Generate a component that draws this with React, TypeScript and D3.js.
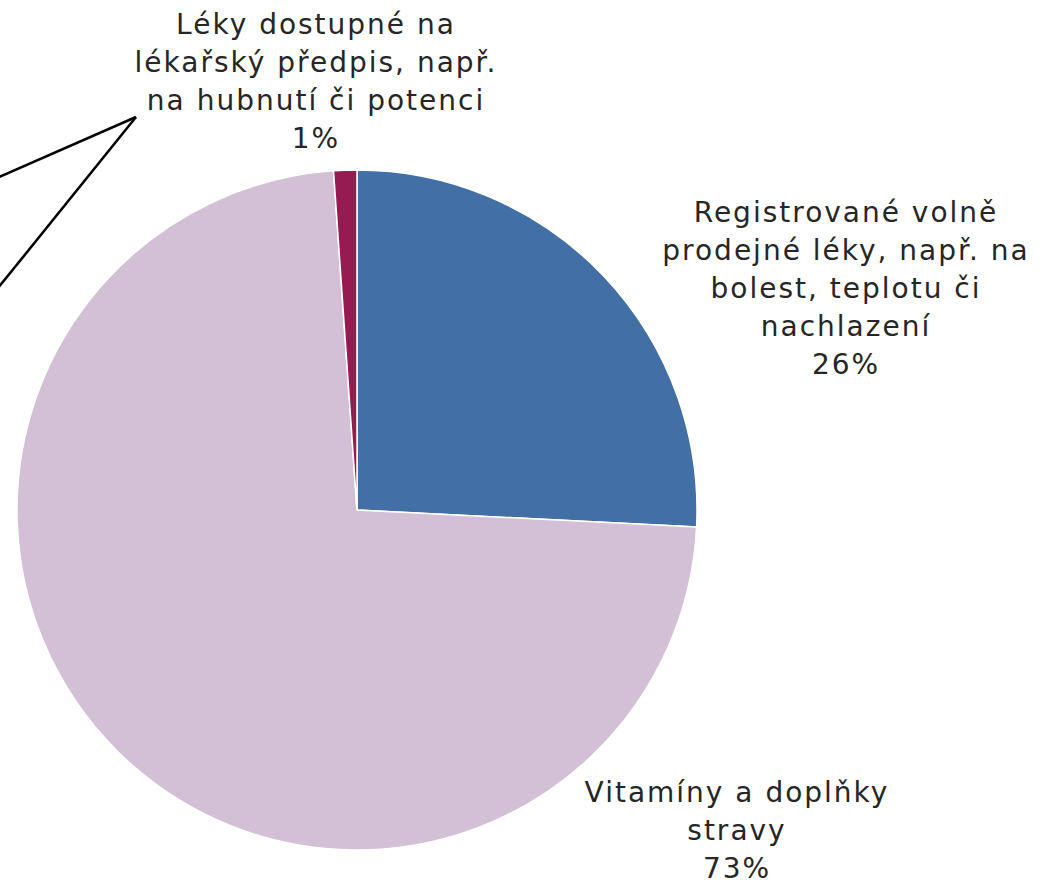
import React, { useEffect, useRef } from 'react';
import * as d3 from 'd3';

// slice data (share in %), in drawing order clockwise from 12 o'clock
const categories = [
  'Registrované volně prodejné léky, např. na bolest, teplotu či nachlazení',
  'Vitamíny a doplňky stravy',
  'Léky dostupné na lékařský předpis, např. na hubnutí či potenci',
];
const values = [25.8, 73.1, 1.1];
const colors = ['#416FA6', '#D3BFD6', '#971B53'];

// wrapped label lines, as in the source
const labelLines = [
  ['Registrované volně', 'prodejné léky, např. na', 'bolest, teplotu či', 'nachlazení'],
  ['Vitamíny a doplňky', 'stravy'],
  ['Léky dostupné na', 'lékařský předpis, např.', 'na hubnutí či potenci'],
];

const App = () => {
  const svgRef = useRef<SVGSVGElement>(null);

  useEffect(() => {
    const width = 1051;
    const height = 880;
    const cx = 357;
    const cy = 510;
    const radius = 340;
    const fontSize = 28;
    const lineH = 38;

    const svg = d3.select(svgRef.current);
    svg.selectAll('*').remove();

    svg.attr('width', width).attr('height', height);

    const g = svg.append('g').attr('transform', `translate(${cx},${cy})`);

    const data = values.map((v, i) => ({ name: categories[i], value: v, i }));

    const pie = d3.pie<any>()
      .value(d => d.value)
      .sort(null)
      .startAngle(0)
      .endAngle(2 * Math.PI);

    const arc = d3.arc<any>().innerRadius(0).outerRadius(radius);

    g.selectAll('path.slice')
      .data(pie(data))
      .enter()
      .append('path')
      .attr('class', 'slice')
      .attr('d', arc)
      .attr('fill', d => colors[d.data.i])
      .attr('stroke', '#ffffff')
      .attr('stroke-width', 1.5);

    // label placement (relative to pie centre) – centre of first baseline
    const labelPos = [
      { x: 489, y: -288 },
      { x: 380, y: 292 },
      { x: -41, y: -476 },
    ];

    const pct = d3.format('.0%');

    data.forEach((d, i) => {
      const lines = [...labelLines[i], pct(d.value / 100)];
      const t = g.append('text')
        .attr('text-anchor', 'middle')
        .attr('font-family', 'Verdana, "DejaVu Sans", sans-serif')
        .attr('font-size', fontSize)
        .attr('letter-spacing', 2)
        .attr('fill', '#262626');
      lines.forEach((ln, k) => {
        t.append('tspan')
          .attr('x', labelPos[i].x)
          .attr('y', labelPos[i].y + k * lineH)
          .text(ln);
      });
    });

    // callout wedge from the small slice's label, running off to the left
    const tip: [number, number] = [136 - cx, 117 - cy];
    const ends: [number, number][] = [[-10 - cx, 181 - cy], [-10 - cx, 298 - cy]];
    ends.forEach(e => {
      g.append('line')
        .attr('x1', tip[0])
        .attr('y1', tip[1])
        .attr('x2', e[0])
        .attr('y2', e[1])
        .attr('stroke', '#000000')
        .attr('stroke-width', 2.5);
    });
  }, []);

  return (
    <svg ref={svgRef} style={{ position: 'absolute', left: 0, top: 0 }}></svg>
  );
};

export default App;
